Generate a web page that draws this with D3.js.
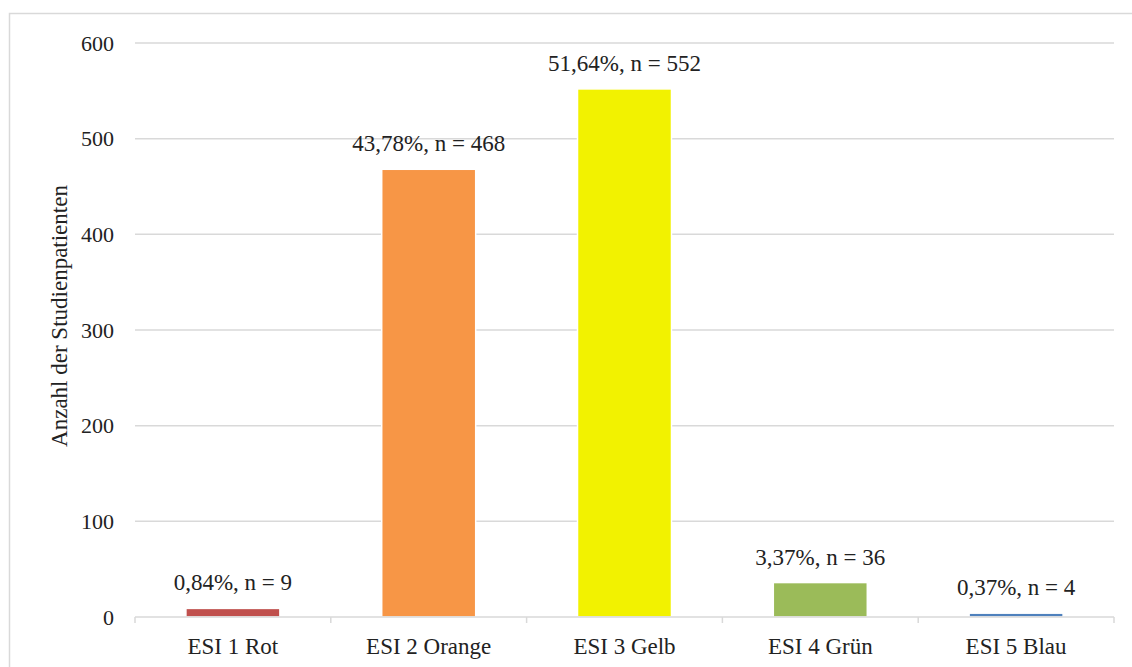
<!DOCTYPE html>
<html>
<head>
<meta charset="utf-8">
<script src="https://cdn.jsdelivr.net/npm/d3@7"></script>
<style>
  html, body { margin: 0; padding: 0; background: #fff; }
  svg { display: block; }
</style>
</head>
<body>
<svg id="chart" width="1132" height="667"></svg>
<script>
// ESI triage levels and patient counts
const categories = ["ESI 1 Rot", "ESI 2 Orange", "ESI 3 Gelb", "ESI 4 Grün", "ESI 5 Blau"];
const counts = [9, 468, 552, 36, 4];
const percentLabels = ["0,84%", "43,78%", "51,64%", "3,37%", "0,37%"];
const barColors = ["#c0504d", "#f79646", "#f2f200", "#9bbb59", "#4f81bd"];
const yTicks = [0, 100, 200, 300, 400, 500, 600];
const yTitle = "Anzahl der Studienpatienten";

const FONT = "'Liberation Serif', 'DejaVu Serif', serif";
const TXT = "#222";

const svg = d3.select("#chart");
const W = 1132, H = 667;
const margin = { left: 135, right: W - 1114, top: 43, bottom: H - 617 };

// outer chart frame
svg.append("rect")
  .attr("x", 9.5).attr("y", 13.5)
  .attr("width", W + 20).attr("height", H + 20)
  .attr("fill", "none").attr("stroke", "#d9d9d9").attr("stroke-width", 1.5);

const x = d3.scaleBand()
  .domain(categories)
  .range([margin.left, W - margin.right])
  .paddingInner(0.52).paddingOuter(0.26);

const y = d3.scaleLinear()
  .domain([0, 600])
  .range([H - margin.bottom, margin.top]);

// horizontal gridlines
svg.append("g")
  .selectAll("line")
  .data(yTicks.filter(d => d > 0))
  .join("line")
  .attr("x1", margin.left).attr("x2", W - margin.right)
  .attr("y1", d => y(d)).attr("y2", d => y(d))
  .attr("stroke", "#d9d9d9").attr("stroke-width", 1.5);

// y-axis tick labels
const yAxis = d3.axisLeft(y).tickValues(yTicks).tickSize(0).tickPadding(0);
const gy = svg.append("g")
  .attr("transform", `translate(${margin.left - 21},0)`)
  .call(yAxis)
  .attr("font-family", FONT)
  .attr("font-size", 22);
gy.select(".domain").remove();
gy.selectAll("text").attr("fill", TXT).attr("dy", "0.33em");

// bars
svg.append("g")
  .selectAll("rect")
  .data(counts)
  .join("rect")
  .attr("x", (d, i) => x(categories[i]))
  .attr("width", x.bandwidth())
  .attr("y", d => y(d))
  .attr("height", d => y(0) - y(d))
  .attr("fill", (d, i) => barColors[i])
  .attr("stroke", "#fff").attr("stroke-width", 1.5);

// x axis with ticks at band boundaries
const xAxisY = y(0);
const gx = svg.append("g").attr("font-family", FONT);
gx.append("line")
  .attr("x1", margin.left).attr("x2", W - margin.right)
  .attr("y1", xAxisY).attr("y2", xAxisY)
  .attr("stroke", "#d9d9d9").attr("stroke-width", 1.5);
const boundaries = d3.range(categories.length + 1).map(i => margin.left + i * (W - margin.left - margin.right) / categories.length);
gx.selectAll("line.tick")
  .data(boundaries)
  .join("line")
  .attr("class", "tick")
  .attr("x1", d => d).attr("x2", d => d)
  .attr("y1", xAxisY).attr("y2", xAxisY + 6)
  .attr("stroke", "#d9d9d9").attr("stroke-width", 1.5);
gx.selectAll("text")
  .data(categories)
  .join("text")
  .attr("x", d => x(d) + x.bandwidth() / 2)
  .attr("y", xAxisY + 37)
  .attr("text-anchor", "middle")
  .attr("font-size", 23)
  .attr("fill", TXT)
  .text(d => d);

// value labels above bars
svg.append("g")
  .attr("font-family", FONT)
  .selectAll("text")
  .data(counts)
  .join("text")
  .attr("x", (d, i) => x(categories[i]) + x.bandwidth() / 2)
  .attr("y", d => y(d) - 18)
  .attr("text-anchor", "middle")
  .attr("font-size", 23)
  .attr("fill", TXT)
  .text((d, i) => `${percentLabels[i]}, n = ${d}`);

// y-axis title
svg.append("text")
  .attr("transform", `translate(67,316) rotate(-90)`)
  .attr("text-anchor", "middle")
  .attr("font-family", FONT)
  .attr("font-size", 23)
  .attr("fill", TXT)
  .text(yTitle);
</script>
</body>
</html>
